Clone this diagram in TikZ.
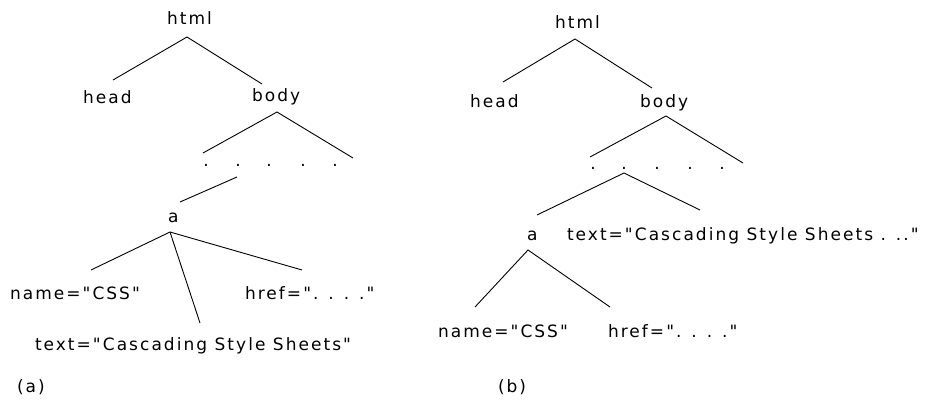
\documentclass[tikz,border=0pt]{standalone}
\usepackage{fontspec}
\setmainfont{DejaVu Sans}[LetterSpace=12,Ligatures=TeXOff]
\begin{document}
\begin{tikzpicture}[x=1pt,y=-1pt,
  lbl/.style={anchor=base west,inner sep=0pt,outer sep=0pt,font=\fontsize{17}{20}\selectfont},
  dotlbl/.style={anchor=base,inner sep=0pt,outer sep=0pt,font=\fontsize{17}{20}\selectfont},
  edge/.style={draw=black,line width=0.9pt}]
\useasboundingbox (0,0) rectangle (936,401);
% ---------- (a) ----------
\node[lbl] (ahtml) at (167,25) {html};
\node[lbl] (ahead) at (83,103) {head};
\node[lbl] (abody) at (252,102) {body};
\node[dotlbl] (ad1) at (206,166) {.};
\node[dotlbl] (ad2) at (238,166) {.};
\node[dotlbl] (ad3) at (269,166) {.};
\node[dotlbl] (ad4) at (303,166) {.};
\node[dotlbl] (ad5) at (335,166) {.};
\node[lbl] (aa) at (168,222) {a};
\node[lbl] (aname) at (10,299) {name="CSS"};
\node[lbl] (ahref) at (245,299) {href=". . . ."};
\node[lbl] (atext) at (35,350) {text="Cascading Style Sheets"};
\node[lbl] (acap) at (17,392) {(a)};
\coordinate (ahtmlJ) at (187,37);
\coordinate (aheadT) at (113,80);
\coordinate (abodyT) at (262,84);
\coordinate (abodyJ) at (277,112);
\coordinate (abL) at (203,153);
\coordinate (abR) at (353,158);
\coordinate (ad2J) at (237,177);
\coordinate (aaT) at (180,202);
\coordinate (aaJ) at (170,232);
\coordinate (anameT) at (91,270);
\coordinate (atextT) at (200,323);
\coordinate (ahrefT) at (302,270);
\draw[edge] (aheadT) -- (ahtmlJ) -- (abodyT);
\draw[edge] (abL) -- (abodyJ) -- (abR);
\draw[edge] (ad2J) -- (aaT);
\draw[edge] (aaJ) -- (anameT);
\draw[edge] (aaJ) -- (atextT);
\draw[edge] (aaJ) -- (ahrefT);
% ---------- (b) ----------
\node[lbl] (bhtml) at (555,29) {html};
\node[lbl] (bhead) at (470,108) {head};
\node[lbl] (bbody) at (640,107) {body};
\node[dotlbl] (bd1) at (593,169) {.};
\node[dotlbl] (bd2) at (624,169) {.};
\node[dotlbl] (bd3) at (657,169) {.};
\node[dotlbl] (bd4) at (690,169) {.};
\node[dotlbl] (bd5) at (722,169) {.};
\node[lbl] (ba) at (527,240) {a};
\node[lbl] (btext) at (567,240) {text="Cascading Style Sheets . .."};
\node[lbl] (bname) at (438,337) {name="CSS"};
\node[lbl] (bhref) at (608,337) {href=". . . ."};
\node[lbl] (bcap) at (498,392) {(b)};
\coordinate (bhtmlJ) at (575,39);
\coordinate (bheadT) at (503,82);
\coordinate (bbodyT) at (652,88);
\coordinate (bbodyJ) at (666,116);
\coordinate (bbL) at (590,157);
\coordinate (bbR) at (743,163);
\coordinate (bd2J) at (624,173);
\coordinate (baT) at (537,215);
\coordinate (btextT) at (700,210);
\coordinate (baJ) at (528,250);
\coordinate (bnameT) at (475,307);
\coordinate (bhrefT) at (610,307);
\draw[edge] (bheadT) -- (bhtmlJ) -- (bbodyT);
\draw[edge] (bbL) -- (bbodyJ) -- (bbR);
\draw[edge] (baT) -- (bd2J) -- (btextT);
\draw[edge] (bnameT) -- (baJ) -- (bhrefT);
\end{tikzpicture}
\end{document}
